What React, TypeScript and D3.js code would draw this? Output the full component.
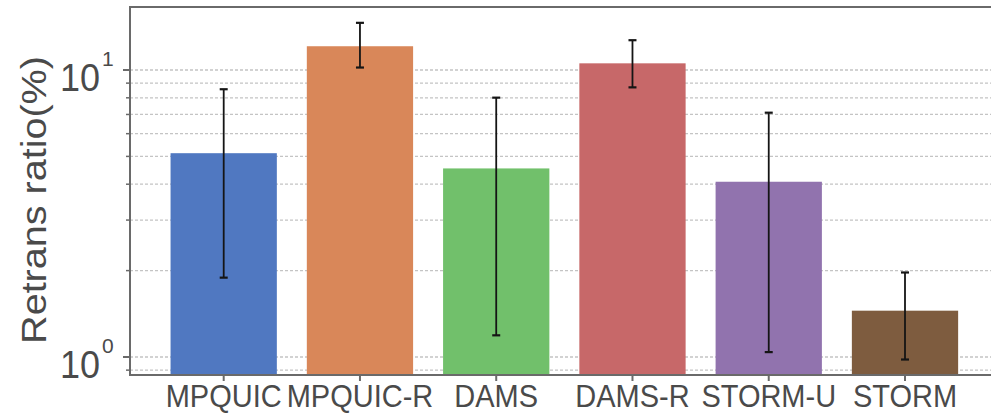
import React from "react";
import * as d3 from "d3";

const categories = ["MPQUIC", "MPQUIC-R", "DAMS", "DAMS-R", "STORM-U", "STORM"];
const means = [5.13, 12.1, 4.54, 10.55, 4.08, 1.45];
const errLow = [1.89, 10.2, 1.19, 8.7, 1.04, 0.98];
const errHigh = [8.57, 14.6, 8.01, 12.7, 7.1, 1.97];
const colors = ["#5078c1", "#d98759", "#71c06b", "#c76869", "#9173ae", "#7e5c3f"];
const majorTicks = [1, 10];
const majorExp = ["0", "1"];
const minorTicks = [0.9, 2, 3, 4, 5, 6, 7, 8, 9];

const W = 991;
const H = 415;
const plotLeft = 130;
const plotTop = 7;
const plotBottom = 375;
const plotRight = 1000;

export default function App() {
  const y = d3.scaleLog().domain([1, 10]).range([357, 70]);
  const x = d3.scaleLinear().domain([0, 5]).range([223.7, 905]);
  const step = x(1) - x(0);
  const bw = step * 0.78;
  const gridCol = "#c4c4c4";
  const spine = "#6a6a6a";
  const txt = "#4a4a4a";
  const font = "Liberation Sans, Arial, sans-serif";

  return (
    <svg
      width={W}
      height={H}
      style={{ position: "absolute", left: 0, top: 0, background: "#fff" }}
      fontFamily={font}
    >
      <rect x={0} y={0} width={W} height={H} fill="#fff" />
      {/* gridlines */}
      {[...minorTicks, ...majorTicks].map((v, i) => (
        <line
          key={"g" + i}
          x1={plotLeft}
          x2={W}
          y1={y(v)}
          y2={y(v)}
          stroke={gridCol}
          strokeWidth={1.3}
          strokeDasharray="3,2"
        />
      ))}
      {/* bars */}
      {categories.map((c, i) => (
        <rect
          key={"b" + c}
          x={x(i) - bw / 2}
          y={y(means[i])}
          width={bw}
          height={plotBottom - y(means[i])}
          fill={colors[i]}
        />
      ))}
      {/* error bars */}
      {categories.map((c, i) => (
        <g key={"e" + c} stroke="#151515" strokeWidth={1.8}>
          <line x1={x(i)} x2={x(i)} y1={y(errLow[i])} y2={y(errHigh[i])} />
          <line x1={x(i) - 4} x2={x(i) + 4} y1={y(errLow[i])} y2={y(errLow[i])} strokeWidth={2.2} />
          <line x1={x(i) - 4} x2={x(i) + 4} y1={y(errHigh[i])} y2={y(errHigh[i])} strokeWidth={2.2} />
        </g>
      ))}
      {/* spines */}
      <line x1={plotLeft} x2={plotLeft} y1={plotTop} y2={plotBottom} stroke={spine} strokeWidth={2} />
      <line x1={plotLeft - 1} x2={plotRight} y1={plotBottom} y2={plotBottom} stroke={spine} strokeWidth={2} />
      <line x1={plotLeft - 1} x2={plotRight} y1={plotTop} y2={plotTop} stroke={spine} strokeWidth={2} />
      {/* y ticks */}
      {majorTicks.map((v, i) => (
        <g key={"mt" + v}>
          <line x1={plotLeft - 7} x2={plotLeft} y1={y(v)} y2={y(v)} stroke={spine} strokeWidth={2} />
          <text
            x={0}
            y={0}
            transform={`translate(60, ${y(v) + 21}) scale(1, 1.08)`}
            fontSize={36}
            fill={txt}
          >
            10
          </text>
          <text x={102} y={y(v) - 4} fontSize={21} fill={txt}>
            {majorExp[i]}
          </text>
        </g>
      ))}
      {minorTicks.map((v) => (
        <line key={"mn" + v} x1={plotLeft - 4} x2={plotLeft} y1={y(v)} y2={y(v)} stroke={spine} strokeWidth={1.5} />
      ))}
      {/* x ticks */}
      {categories.map((c, i) => (
        <g key={"xt" + c}>
          <line x1={x(i)} x2={x(i)} y1={plotBottom} y2={plotBottom + 6} stroke={spine} strokeWidth={2} />
          <text
            transform={`translate(${x(i)}, 407) scale(1, 1.1)`}
            textAnchor="middle"
            fontSize={29}
            fill={txt}
          >
            {c}
          </text>
        </g>
      ))}
      {/* y label */}
      <text
        transform={`translate(46, ${(52 + 348) / 2}) rotate(-90) scale(1.13, 1)`}
        textAnchor="middle"
        fontSize={35}
        fill={txt}
      >
        Retrans ratio(%)
      </text>
    </svg>
  );
}
